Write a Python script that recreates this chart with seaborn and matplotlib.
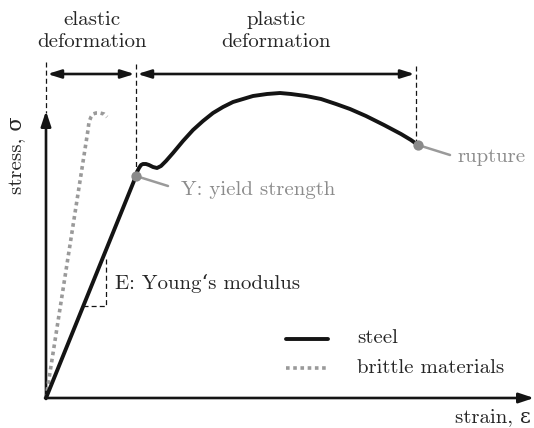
import matplotlib
matplotlib.use("Agg")
import matplotlib.pyplot as plt
import seaborn as sns
import pandas as pd

sns.set_style("white")
plt.rcParams["font.family"] = ["cmr10", "DejaVu Serif"]
plt.rcParams["mathtext.fontset"] = "cm"
plt.rcParams["axes.formatter.use_mathtext"] = True

# Schematic stress-strain curves (arbitrary units)
steel_strain = [0, 90, 91, 93, 95, 97, 100, 103, 107, 111, 115, 120, 127, 137, 147, 157,
                167, 177, 187, 197, 207, 221, 234, 245, 260, 275, 290, 304, 320, 338,
                355, 365, 372]
steel_stress = [0, 222, 226, 230, 233, 234, 234, 233, 231, 230, 232, 237, 245, 257, 268, 277,
                285, 291, 296, 299, 302, 304, 305, 304, 302, 299, 294, 289, 282, 273,
                264, 258, 253]

brittle_strain = [0, 42, 43, 45, 47, 50, 54, 58, 61]
brittle_stress = [0, 268, 276, 281, 284, 285, 285, 284, 281]

yield_point = (90, 222)
rupture_point = (372, 253)

elastic_limit = 90
rupture_strain = 370

labels_regions = ["elastic\ndeformation", "plastic\ndeformation"]
legend_labels = ["steel", "brittle materials"]

steel = pd.DataFrame({"strain": steel_strain, "stress": steel_stress})
brittle = pd.DataFrame({"strain": brittle_strain, "stress": brittle_stress})

fig = plt.figure(figsize=(5.34, 4.28), dpi=100)
ax = fig.add_axes([0, 0, 1, 1])
ax.set_xlim(-46, 488)
ax.set_ylim(-30, 398)
ax.axis("off")

black = "#141414"
gray = "#9a9a9a"
tgray = "#8c8c8c"
fs = 15

# axes with arrow heads
ax.annotate("", xy=(0, 287), xytext=(0, -1),
            arrowprops=dict(arrowstyle="-|>,head_length=0.9,head_width=0.3", color=black, lw=1.9,
                            shrinkA=0, shrinkB=0))
ax.annotate("", xy=(488, 0), xytext=(-1, 0),
            arrowprops=dict(arrowstyle="-|>,head_length=0.9,head_width=0.3", color=black, lw=1.9,
                            shrinkA=0, shrinkB=0))

# curves
sns.lineplot(data=brittle, x="strain", y="stress", ax=ax, color=gray, lw=2.6,
             linestyle=(0, (1, 1)), sort=False, estimator=None, zorder=3)
sns.lineplot(data=steel, x="strain", y="stress", ax=ax, color=black, lw=2.8,
             sort=False, estimator=None, zorder=4, solid_joinstyle="round")

# region separators
for x0, top, bottom in [(0, 336, 285), (elastic_limit, 334, yield_point[1]),
                        (rupture_strain, 332, rupture_point[1])]:
    ax.plot([x0, x0], [top, bottom], color=black, lw=0.9, ls=(0, (4, 2.5)), zorder=2)

# region arrows
arrow_y = 324
for a, b in [(0, elastic_limit), (elastic_limit, rupture_strain)]:
    ax.annotate("", xy=(b, arrow_y), xytext=(a, arrow_y),
                arrowprops=dict(arrowstyle="<|-|>,head_length=0.8,head_width=0.25",
                                color=black, lw=1.9, shrinkA=1, shrinkB=1))
ax.text(46, 367, labels_regions[0], ha="center", va="center", fontsize=fs, linespacing=1.25)
ax.text(230, 367, labels_regions[1], ha="center", va="center", fontsize=fs, linespacing=1.25)

# axis labels
ax.text(-29, 243, "stress, \u03c3", rotation=90, ha="center", va="center", fontsize=fs)
ax.text(447, -24, "strain, \u03b5", ha="center", va="baseline", fontsize=fs)

# Young's modulus slope triangle
ax.plot([37, 60, 60], [92, 92, 139], color=black, lw=0.9, ls=(0, (4, 2.5)), zorder=2)
ax.text(69, 115, "E: Young\u2018s modulus", ha="left", va="center", fontsize=fs)

# yield and rupture markers
ax.plot([yield_point[0], 122], [yield_point[1], 212], color=gray, lw=1.8, zorder=4)
ax.plot([rupture_point[0], 404], [rupture_point[1], 243], color=gray, lw=1.8, zorder=4)
ax.scatter([yield_point[0], rupture_point[0]], [yield_point[1], rupture_point[1]],
           s=55, color="#8a8a8a", zorder=5, linewidths=0)
ax.text(135, 208, "Y: yield strength", ha="left", va="center", fontsize=fs, color=tgray)
ax.text(412, 241, "rupture", ha="left", va="center", fontsize=fs, color=tgray)

# legend
ax.plot([240, 282], [59, 59], color=black, lw=2.8)
ax.plot([240, 282], [30, 30], color=gray, lw=2.6, ls=(0, (1, 1)))
ax.text(311, 60, legend_labels[0], ha="left", va="center", fontsize=fs)
ax.text(311, 30, legend_labels[1], ha="left", va="center", fontsize=fs)

fig.savefig("out.png", dpi=100)
